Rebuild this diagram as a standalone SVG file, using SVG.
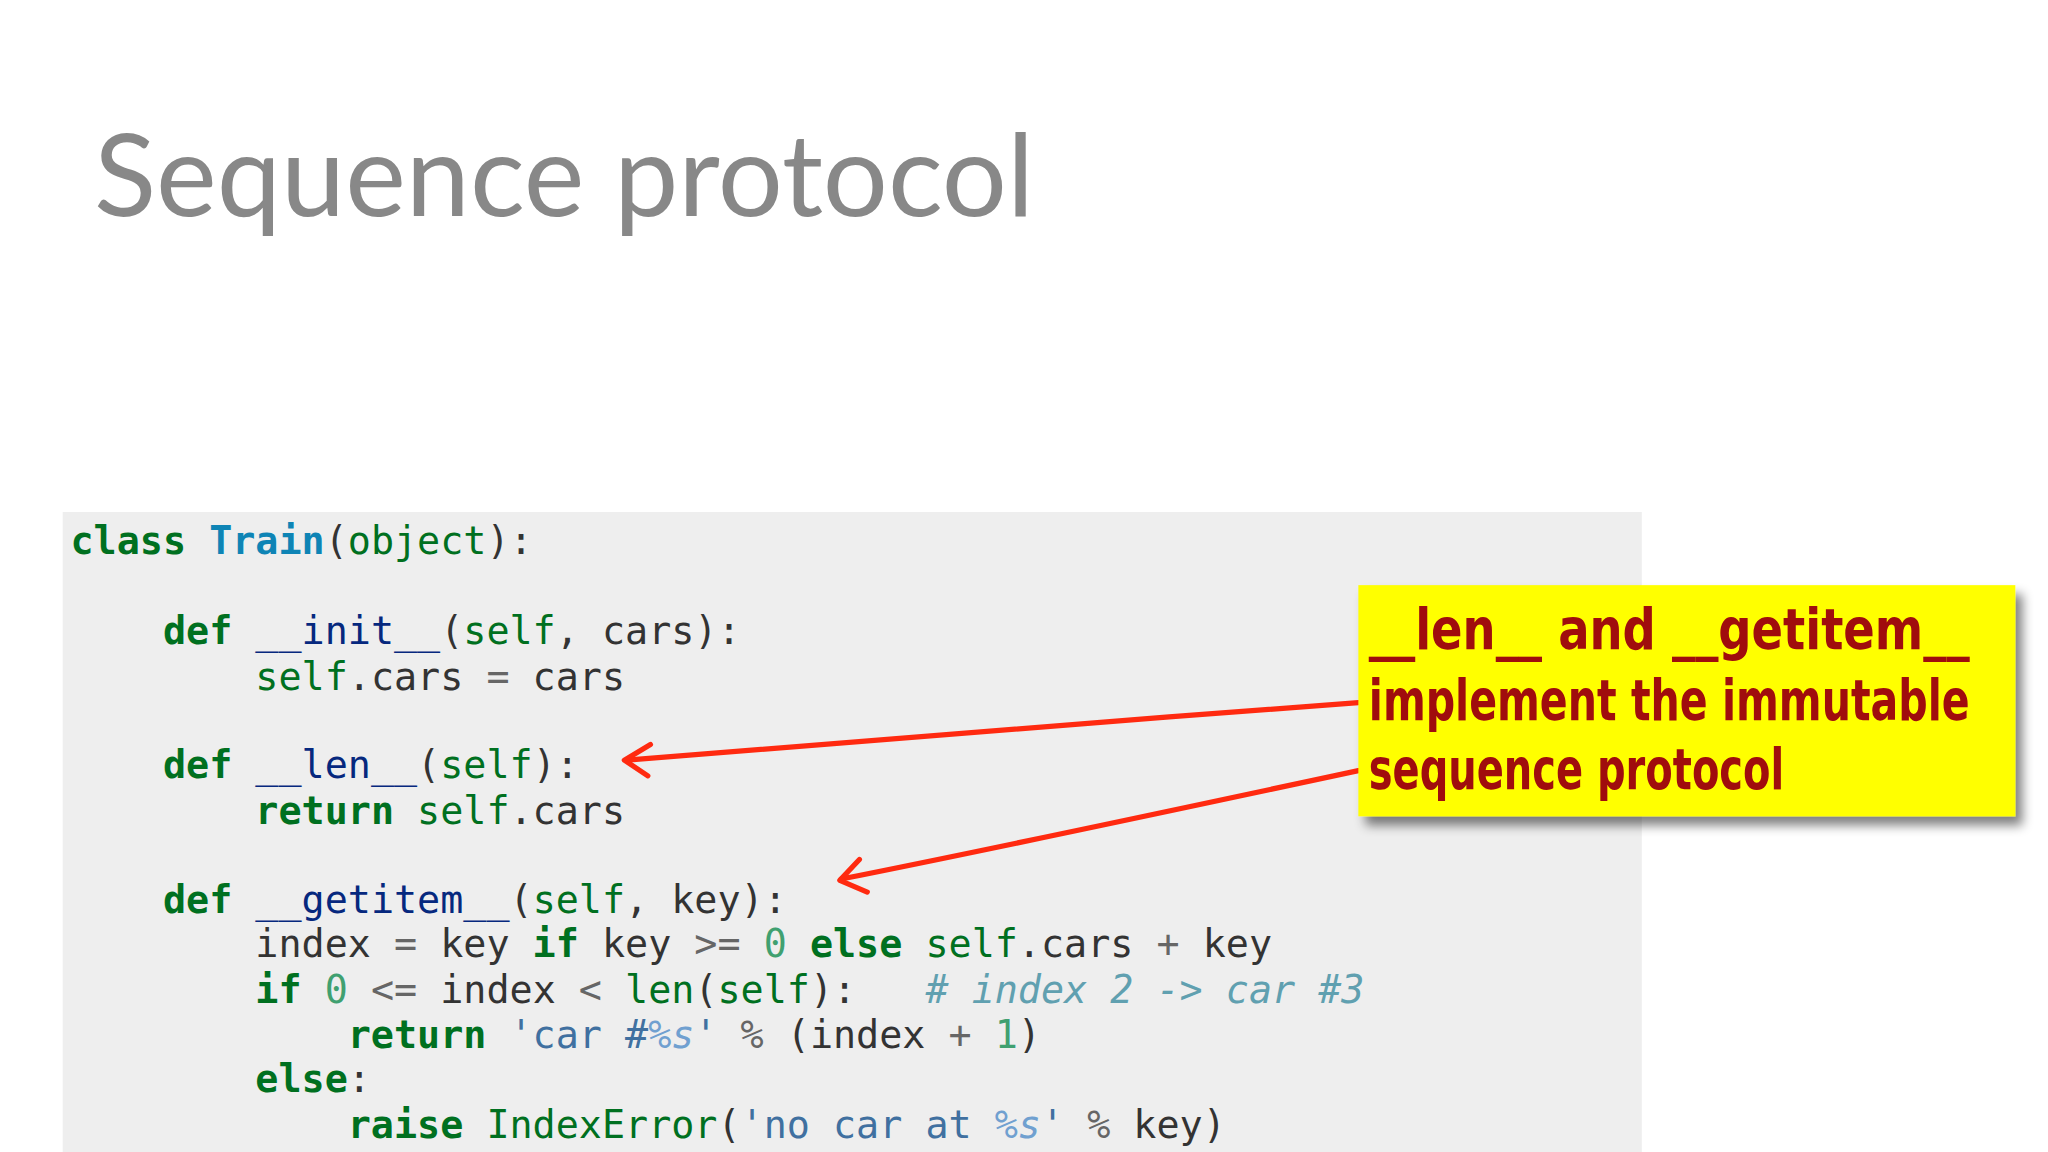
<svg xmlns="http://www.w3.org/2000/svg" width="2048" height="1152" viewBox="0 0 2048 1152">
<defs>
<style>
.c{font-family:"DejaVu Sans Mono",monospace;font-size:29.4px;fill:#333;white-space:pre}
.k{fill:#007020;font-weight:bold}
.b{fill:#007020}
.f{fill:#06287e}
.cl{fill:#0e84b5;font-weight:bold}
.s{fill:#4070a0}
.si{fill:#70a0d0;font-style:italic}
.n{fill:#40a070}
.o{fill:#666}
.cm{fill:#60a0b0;font-style:italic}
.note{font-family:"DejaVu Sans Condensed","DejaVu Sans",sans-serif;font-weight:bold;font-size:44px;fill:#a00d0d}
.arr{stroke:#ff2a10;stroke-width:4;fill:none;stroke-linecap:round;stroke-linejoin:round}
</style>
<filter id="sh" x="-5%" y="-5%" width="115%" height="125%"><feGaussianBlur in="SourceAlpha" stdDeviation="4"/><feOffset dx="5" dy="7"/><feComponentTransfer><feFuncA type="linear" slope="0.5"/></feComponentTransfer><feMerge><feMergeNode/><feMergeNode in="SourceGraphic"/></feMerge></filter>
</defs>
<rect width="2048" height="1152" fill="#fff"/>
<g transform="scale(1.30612)">
<g id="title"><text x="72" y="165" font-family="Lato,'Open Sans',sans-serif" font-size="88" fill="#888">Sequence protocol</text></g>
<g id="code">
<rect x="48" y="392" width="1209" height="490" fill="#eeeeee"/>
<text class="c" x="54" y="424"><tspan class="k">class</tspan> <tspan class="cl">Train</tspan>(<tspan class="b">object</tspan>):</text>
<text class="c" x="54" y="493">    <tspan class="k">def</tspan> <tspan class="f">__init__</tspan>(<tspan class="b">self</tspan>, cars):</text>
<text class="c" x="54" y="528">        <tspan class="b">self</tspan>.cars <tspan class="o">=</tspan> cars</text>
<text class="c" x="54" y="596">    <tspan class="k">def</tspan> <tspan class="f">__len__</tspan>(<tspan class="b">self</tspan>):</text>
<text class="c" x="54" y="631">        <tspan class="k">return</tspan> <tspan class="b">self</tspan>.cars</text>
<text class="c" x="54" y="699">    <tspan class="k">def</tspan> <tspan class="f">__getitem__</tspan>(<tspan class="b">self</tspan>, key):</text>
<text class="c" x="54" y="733">        index <tspan class="o">=</tspan> key <tspan class="k">if</tspan> key <tspan class="o">&gt;=</tspan> <tspan class="n">0</tspan> <tspan class="k">else</tspan> <tspan class="b">self</tspan>.cars <tspan class="o">+</tspan> key</text>
<text class="c" x="54" y="768">        <tspan class="k">if</tspan> <tspan class="n">0</tspan> <tspan class="o">&lt;=</tspan> index <tspan class="o">&lt;</tspan> <tspan class="b">len</tspan>(<tspan class="b">self</tspan>):   <tspan class="cm"># index 2 -&gt; car #3</tspan></text>
<text class="c" x="54" y="802">            <tspan class="k">return</tspan> <tspan class="s">'car #</tspan><tspan class="si">%s</tspan><tspan class="s">'</tspan> <tspan class="o">%</tspan> (index <tspan class="o">+</tspan> <tspan class="n">1</tspan>)</text>
<text class="c" x="54" y="836">        <tspan class="k">else</tspan>:</text>
<text class="c" x="54" y="871">            <tspan class="k">raise</tspan> <tspan class="b">IndexError</tspan>(<tspan class="s">'no car at </tspan><tspan class="si">%s</tspan><tspan class="s">'</tspan> <tspan class="o">%</tspan> key)</text>
</g>
<g id="connectors">
<path class="arr" d="M1040,538 C850,552 650,568 480,582"/>
<path class="arr" d="M498,570 L478,582 L496,594" stroke-width="5"/>
<path class="arr" d="M1040,590 C900,620 760,650 644,673"/>
<path class="arr" d="M658,658 L643,674 L664,683" stroke-width="5"/>
</g>
<g id="note">
<rect x="1040" y="448" width="503" height="177" fill="#ffff00" filter="url(#sh)"/>
<text class="note" x="1048" y="497" textLength="460" lengthAdjust="spacingAndGlyphs">__len__ and __getitem__</text>
<text class="note" x="1048" y="551" textLength="460" lengthAdjust="spacingAndGlyphs">implement the immutable</text>
<text class="note" x="1048" y="604" textLength="318" lengthAdjust="spacingAndGlyphs">sequence protocol</text>
</g>
</g>
</svg>
